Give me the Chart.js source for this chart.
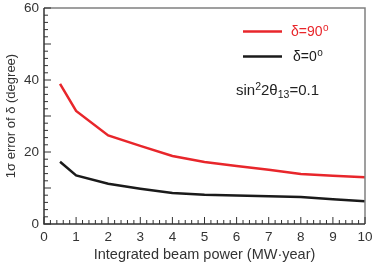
<!DOCTYPE html>
<html>
<head>
<meta charset="utf-8">
<script src="https://cdn.jsdelivr.net/npm/chart.js@4/dist/chart.umd.min.js"></script>
<style>
  html, body { margin: 0; padding: 0; background: #fff; }
  #wrap { width: 374px; height: 268px; }
</style>
</head>
<body>
<div id="wrap"><canvas id="myChart" width="374" height="268"></canvas></div>
<script>
'use strict';

const beamPower = [0.5, 1, 2, 3, 4, 5, 6, 7, 8, 9, 10];
const errDelta90 = [38.9, 31.4, 24.6, 21.7, 18.9, 17.2, 16.1, 15.1, 13.9, 13.4, 13.0];
const errDelta0 = [17.3, 13.5, 11.2, 9.8, 8.6, 8.1, 7.9, 7.7, 7.5, 6.9, 6.3];
const xTicks = [0, 1, 2, 3, 4, 5, 6, 7, 8, 9, 10];
const yTicks = [0, 20, 40, 60];

const redColor = '#e8262b';
const blackColor = '#1a1a1a';
const fontFamily = '"Liberation Sans", Arial, sans-serif';

let toPoints = function (xs, ys) {
    return xs.map((x, i) => ({ x: x, y: ys[i] }));
};

// ticks drawn inside the frame, plus the text box on the right
let decorations = {
    id: 'decorations',
    afterDraw(chart) {
        const ctx = chart.ctx;
        const area = chart.chartArea;
        const xs = chart.scales.x;
        const ys = chart.scales.y;
        ctx.save();

        // frame
        ctx.lineWidth = 1.5;
        ctx.strokeStyle = '#808080';
        ctx.beginPath();
        ctx.moveTo(area.left, area.top);
        ctx.lineTo(area.right, area.top);
        ctx.lineTo(area.right, area.bottom);
        ctx.stroke();
        ctx.strokeStyle = '#333';
        ctx.beginPath();
        ctx.moveTo(area.left, area.top);
        ctx.lineTo(area.left, area.bottom);
        ctx.lineTo(area.right, area.bottom);
        ctx.stroke();

        // minor / major ticks
        ctx.lineWidth = 1;
        ctx.strokeStyle = '#333';
        for (let v = 0; v <= 10.001; v += 0.2) {
            let px = xs.getPixelForValue(v);
            let major = Math.abs(v - Math.round(v)) < 0.01;
            let len = major ? 7 : 4;
            ctx.beginPath();
            ctx.moveTo(px, area.bottom);
            ctx.lineTo(px, area.bottom - len);
            ctx.stroke();
        }
        for (let v = 0; v <= 60.001; v += 2) {
            let py = ys.getPixelForValue(v);
            let len = (v % 10 === 0) ? 7 : 4;
            ctx.beginPath();
            ctx.moveTo(area.left, py);
            ctx.lineTo(area.left + len, py);
            ctx.stroke();
        }

        // legend
        const sets = chart.data.datasets;
        const rows = [
            { y: 31.5, text: 'δ=90', tx: 291, ds: sets[0] },
            { y: 56.5, text: 'δ=0', tx: 293, ds: sets[1] }
        ];
        ctx.textBaseline = 'middle';
        rows.forEach(r => {
            ctx.strokeStyle = r.ds.borderColor;
            ctx.lineWidth = 2.5;
            ctx.beginPath();
            ctx.moveTo(243, r.y);
            ctx.lineTo(282, r.y);
            ctx.stroke();
            ctx.fillStyle = r.ds.borderColor;
            ctx.font = '14px ' + fontFamily;
            ctx.textAlign = 'left';
            ctx.fillText(r.text, r.tx, r.y + 1);
            let w = ctx.measureText(r.text).width;
            ctx.font = '10px ' + fontFamily;
            ctx.fillText('o', r.tx + w + 0.5, r.y - 3);
        });

        // sin^2 2theta_13 = 0.1
        ctx.fillStyle = '#222';
        ctx.textBaseline = 'alphabetic';
        let x = 236, base = 95;
        let parts = [
            ['sin', 15, 0], ['2', 10.5, -5.5], ['2θ', 15, 0], ['13', 10.5, 3], ['=0.1', 15, 0]
        ];
        parts.forEach(p => {
            ctx.font = p[1] + 'px ' + fontFamily;
            ctx.fillText(p[0], x, base + p[2]);
            x += ctx.measureText(p[0]).width;
        });

        ctx.restore();
    }
};

new Chart(document.getElementById('myChart').getContext('2d'), {
    type: 'scatter',
    data: {
        datasets: [{
            label: 'δ=90°',
            data: toPoints(beamPower, errDelta90),
            showLine: true,
            borderColor: redColor,
            borderWidth: 2.5,
            pointRadius: 0,
            tension: 0
        }, {
            label: 'δ=0°',
            data: toPoints(beamPower, errDelta0),
            showLine: true,
            borderColor: blackColor,
            borderWidth: 2.5,
            pointRadius: 0,
            tension: 0
        }]
    },
    options: {
        responsive: false,
        animation: false,
        layout: { padding: { top: 8, right: 9, left: 0, bottom: 0 } },
        plugins: {
            legend: { display: false },
            tooltip: { enabled: false }
        },
        scales: {
            x: {
                type: 'linear',
                min: 0,
                max: 10,
                afterBuildTicks: s => { s.ticks = xTicks.map(v => ({ value: v })); },
                afterFit: s => {
                    s.height = 44;
                    s.paddingLeft = 0;
                    s.paddingRight = 0;
                },
                grid: { display: false, drawTicks: false },
                border: { display: false },
                ticks: { color: '#333', font: { family: fontFamily, size: 13.5 }, padding: 5, maxRotation: 0 },
                title: {
                    display: true,
                    text: 'Integrated beam power (MW·year)',
                    color: '#333',
                    font: { family: fontFamily, size: 14.5 },
                    padding: { top: 1 }
                }
            },
            y: {
                min: 0,
                max: 60,
                afterBuildTicks: s => { s.ticks = yTicks.map(v => ({ value: v })); },
                afterFit: s => {
                    s.width = 44;
                    s.paddingTop = 0;
                    s.paddingBottom = 0;
                },
                grid: { display: false, drawTicks: false },
                border: { display: false },
                ticks: { color: '#333', font: { family: fontFamily, size: 13.5 }, padding: 5 },
                title: {
                    display: true,
                    text: '1σ error of δ (degree)',
                    color: '#333',
                    font: { family: fontFamily, size: 13 },
                    padding: { bottom: 2 }
                }
            }
        }
    },
    plugins: [decorations]
});
</script>
</body>
</html>
